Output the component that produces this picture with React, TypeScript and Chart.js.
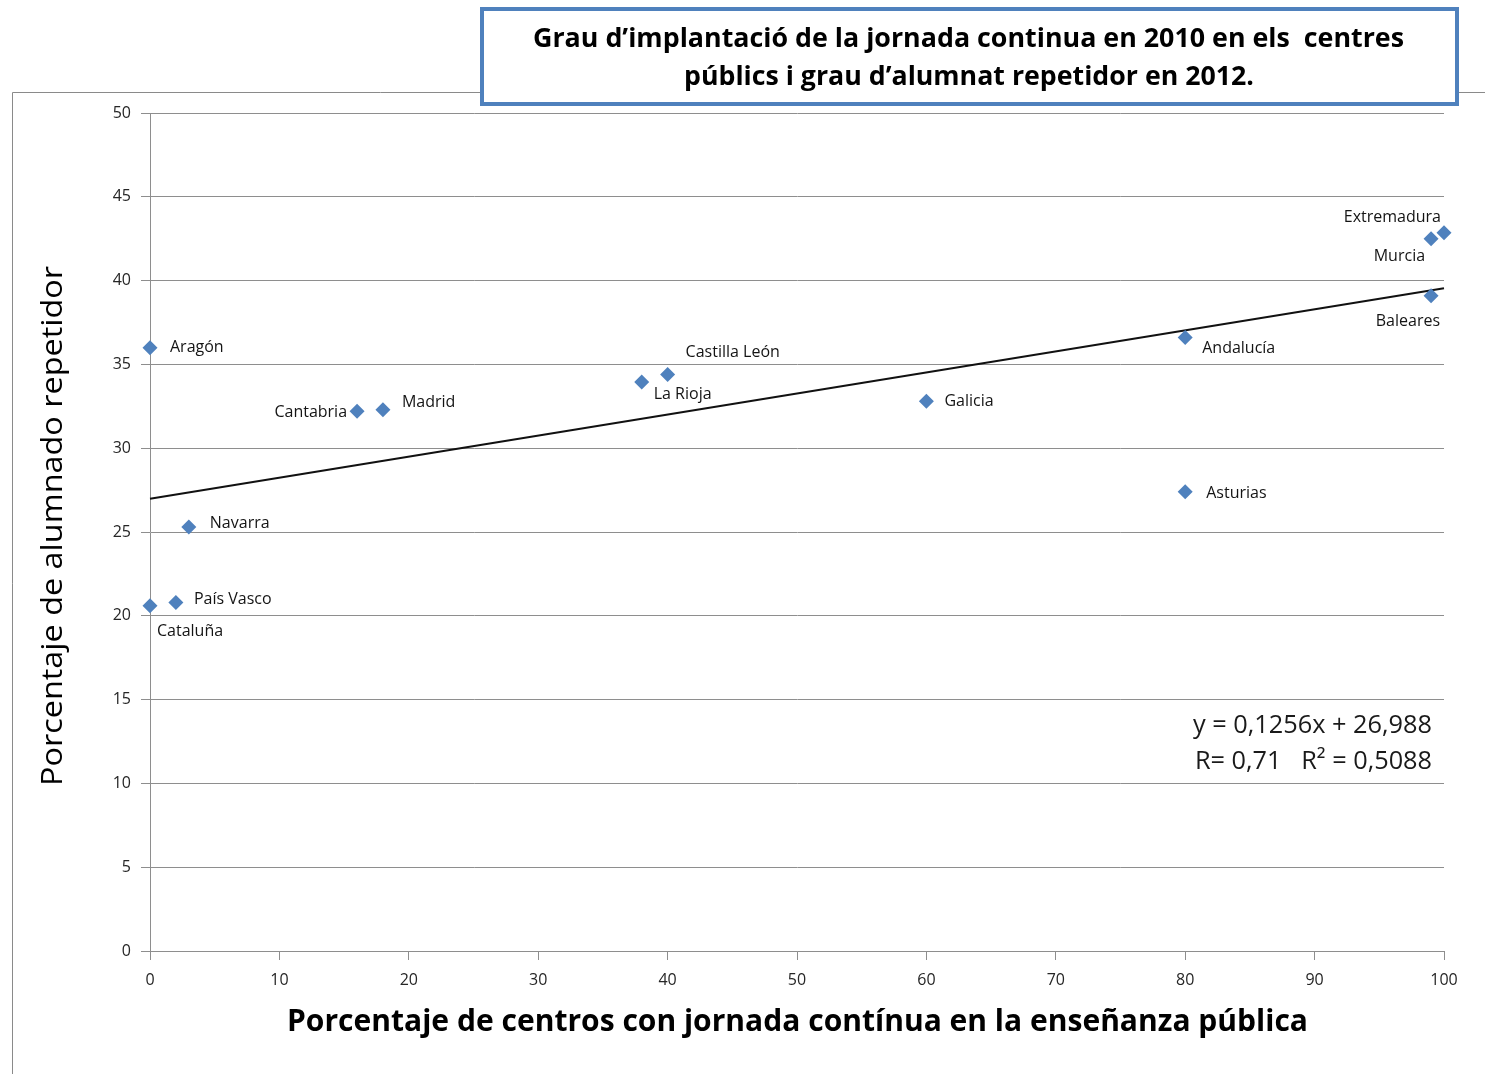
import React, { useEffect, useRef } from "react";
import { Chart, registerables } from "chart.js";

Chart.register(...registerables);

const regions = [
  "Aragón", "Cataluña", "País Vasco", "Navarra", "Cantabria", "Madrid", "La Rioja",
  "Castilla León", "Galicia", "Andalucía", "Asturias", "Baleares", "Murcia", "Extremadura",
];
const jornadaContinua = [0, 0, 2, 3, 16, 18, 38, 40, 60, 80, 80, 99, 99, 100];
const repetidores = [36.0, 20.6, 20.8, 25.3, 32.2, 32.3, 33.95, 34.4, 32.8, 36.6, 27.4, 39.1, 42.5, 42.85];

const trendSlope = 0.1256;
const trendIntercept = 26.988;
const trendX = [0, 100];

const xTicks = [0, 10, 20, 30, 40, 50, 60, 70, 80, 90, 100];
const yTicks = [0, 5, 10, 15, 20, 25, 30, 35, 40, 45, 50];

const titleLines = [
  "Grau d\u2019implantació de la jornada continua en 2010 en els  centres",
  "públics i grau d\u2019alumnat repetidor en 2012.",
];
const xTitle = "Porcentaje de centros con jornada contínua en la enseñanza pública";
const yTitle = "Porcentaje de alumnado repetidor";
const equationLines = ["y = 0,1256x + 26,988", "R= 0,71   R\u00b2 = 0,5088"];

// label placement (style): dx, dy, align
const labelPlacement: [number, number, CanvasTextAlign][] = [
  [20, 0, "left"],
  [7, 26, "left"],
  [18, -3, "left"],
  [21, -4, "left"],
  [-10, 1, "right"],
  [19, -7, "left"],
  [12, 12, "left"],
  [18, -22, "left"],
  [18, 0, "left"],
  [17, 11, "left"],
  [21, 2, "left"],
  [9, 26, "right"],
  [-6, 18, "right"],
  [-3, -15, "right"],
];

const FONT = "'Open Sans', 'Noto Sans', sans-serif";
const GRID = "#8e8e8e";

function fitText(ctx: CanvasRenderingContext2D, text: string, x: number, y: number, width: number) {
  const w = ctx.measureText(text).width;
  const s = width / w;
  ctx.save();
  ctx.translate(x, y);
  ctx.scale(s, 1);
  ctx.fillText(text, 0, 0);
  ctx.restore();
}

const decorPlugin = {
  id: "decor",
  beforeDraw(chart: any) {
    const ctx = chart.ctx as CanvasRenderingContext2D;
    ctx.save();
    ctx.fillStyle = "#ffffff";
    ctx.fillRect(0, 0, chart.width, chart.height);
    ctx.strokeStyle = "#8a8a8a";
    ctx.lineWidth = 1;
    ctx.beginPath();
    ctx.moveTo(12.5, chart.height);
    ctx.lineTo(12.5, 92.5);
    ctx.lineTo(chart.width, 92.5);
    ctx.stroke();
    ctx.restore();
  },
  afterDatasetsDraw(chart: any) {
    const ctx = chart.ctx as CanvasRenderingContext2D;
    const xs = chart.scales.x;
    const ys = chart.scales.y;
    ctx.save();
    ctx.fillStyle = "#141414";
    ctx.font = `16px ${FONT}`;
    ctx.textBaseline = "middle";
    regions.forEach((name, i) => {
      const px = xs.getPixelForValue(jornadaContinua[i]);
      const py = ys.getPixelForValue(repetidores[i]);
      const [dx, dy, al] = labelPlacement[i];
      ctx.textAlign = al;
      ctx.fillText(name, px + dx, py + dy);
    });

    // equation
    ctx.font = `26px ${FONT}`;
    ctx.textAlign = "left";
    ctx.fillStyle = "#1a1a1a";
    fitText(ctx, equationLines[0], 1193, 726, 239);
    fitText(ctx, equationLines[1], 1195, 762, 237);

    // axis titles
    ctx.fillStyle = "#000000";
    ctx.font = `bold 30px ${FONT}`;
    ctx.textAlign = "left";
    fitText(ctx, xTitle, 287, 1022, 1021);

    ctx.font = `30px ${FONT}`;
    ctx.save();
    ctx.translate(53, 786);
    ctx.rotate(-Math.PI / 2);
    fitText(ctx, yTitle, 0, 0, 520);
    ctx.restore();
    ctx.restore();
  },
  afterDraw(chart: any) {
    const ctx = chart.ctx as CanvasRenderingContext2D;
    ctx.save();
    ctx.fillStyle = "#ffffff";
    ctx.fillRect(481, 8, 976, 96);
    ctx.strokeStyle = "#4f81bd";
    ctx.lineWidth = 4;
    ctx.strokeRect(482, 9, 975, 95);
    ctx.fillStyle = "#000000";
    ctx.font = `bold 27px ${FONT}`;
    ctx.textBaseline = "middle";
    ctx.textAlign = "left";
    fitText(ctx, titleLines[0], 533, 39, 871);
    fitText(ctx, titleLines[1], 684, 77, 570);
    ctx.restore();
  },
};

export default function App() {
  const ref = useRef<HTMLCanvasElement | null>(null);
  useEffect(() => {
    document.body.style.margin = "0";
    const canvas = ref.current!;
    const points = jornadaContinua.map((x, i) => ({ x, y: repetidores[i] }));
    const trend = trendX.map((x) => ({ x, y: trendSlope * x + trendIntercept }));
    const chart = new Chart(canvas, {
      type: "scatter",
      data: {
        datasets: [
          {
            label: "Repetidores",
            data: points,
            pointStyle: "rectRot",
            pointRadius: 7.5,
            pointBackgroundColor: "#4f81bd",
            pointBorderColor: "#4f81bd",
            pointBorderWidth: 0,
            showLine: false,
            clip: false,
          },
          {
            label: "Tendencia",
            data: trend,
            showLine: true,
            pointRadius: 0,
            borderColor: "#111111",
            borderWidth: 2,
            fill: false,
            clip: false,
          },
        ],
      },
      options: {
        animation: false,
        responsive: false,
        devicePixelRatio: 1,
        layout: { padding: { left: 0, top: 113, right: 41, bottom: 0 } },
        plugins: { legend: { display: false }, tooltip: { enabled: false }, title: { display: false } },
        scales: {
          x: {
            type: "linear",
            min: 0,
            max: 100,
            afterBuildTicks: (s: any) => {
              s.ticks = xTicks.map((v) => ({ value: v }));
            },
            afterFit: (s: any) => {
              s.height = 123;
            },
            ticks: { color: "#262626", font: { size: 16, family: FONT }, padding: 11, maxRotation: 0 },
            grid: { drawOnChartArea: false, drawTicks: true, tickLength: 9, color: GRID },
            border: { display: true, color: GRID, width: 1 },
          },
          y: {
            type: "linear",
            min: 0,
            max: 50,
            afterBuildTicks: (s: any) => {
              s.ticks = yTicks.map((v) => ({ value: v }));
            },
            afterFit: (s: any) => {
              s.width = 150;
            },
            ticks: { color: "#262626", font: { size: 16, family: FONT }, padding: 10 },
            grid: { drawOnChartArea: true, drawTicks: true, tickLength: 9, color: GRID },
            border: { display: true, color: GRID, width: 1 },
          },
        },
      },
      plugins: [decorPlugin],
    } as any);
    return () => chart.destroy();
  }, []);
  return (
    <div style={{ position: "absolute", left: 0, top: 0, width: 1485, height: 1074 }}>
      <canvas ref={ref} width={1485} height={1074} style={{ width: 1485, height: 1074, display: "block" }} />
    </div>
  );
}
